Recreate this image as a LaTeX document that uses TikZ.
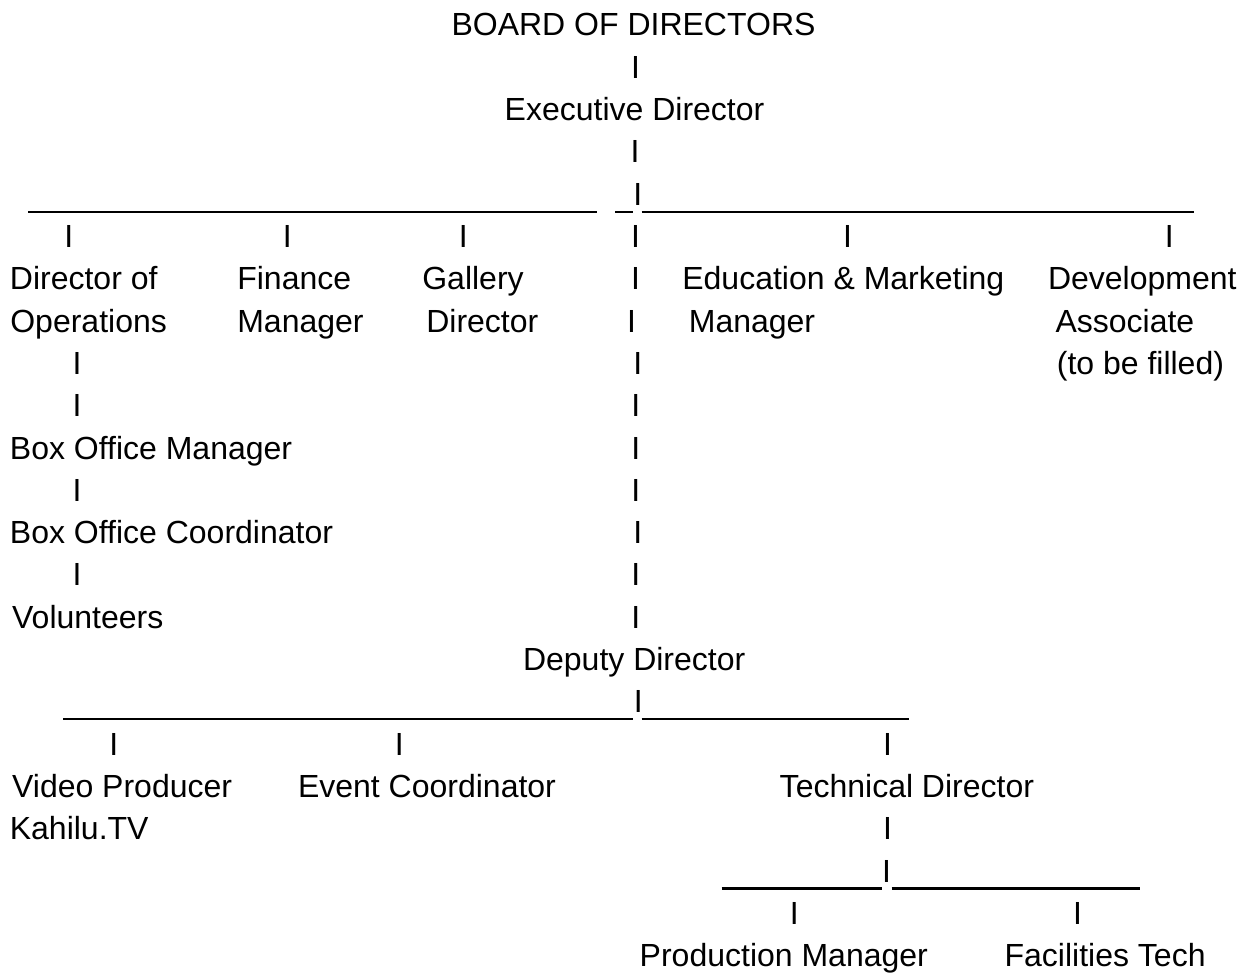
\documentclass[tikz,border=0pt]{standalone}
\usepackage{fontspec}
\setmainfont{Liberation Sans}
\begin{document}
\begin{tikzpicture}[x=0.375pt, y=-0.375pt,
  lbl/.style={anchor=base west, inner sep=0pt, font=\fontsize{12pt}{14pt}\selectfont},
  bar/.style={anchor=base, inner sep=0pt, font=\fontsize{12pt}{14pt}\selectfont},
  rule/.style={line width=0.85pt, black}]
\useasboundingbox (0,0) rectangle (1251,973);
% row baselines: 36 + 42.3 n
% row 0-3
\node[lbl] (board) at (451,36) {BOARD OF DIRECTORS};
\node[bar] (b1) at (635.5,78.3) {I};
\node[lbl] (exec) at (504.2,120.6) {Executive Director};
\node[bar] (b3) at (635,162.9) {I};
% row 4
\node[bar] (b4) at (637.7,205.2) {I};
\coordinate (l4a) at (28,211.7);
\coordinate (l4b) at (597,211.7);
\coordinate (l4c) at (615,211.7);
\coordinate (l4d) at (633,211.7);
\coordinate (l4e) at (641.7,211.7);
\coordinate (l4f) at (1194,211.7);
\draw[rule] (l4a) -- (l4b);
\draw[rule] (l4c) -- (l4d);
\draw[rule] (l4e) -- (l4f);
% row 5
\node[bar] (b5a) at (68.8,247.5) {I};
\node[bar] (b5b) at (287.2,247.5) {I};
\node[bar] (b5c) at (463.3,247.5) {I};
\node[bar] (b5d) at (635.5,247.5) {I};
\node[bar] (b5e) at (847.5,247.5) {I};
\node[bar] (b5f) at (1169.2,247.5) {I};
% row 6
\node[lbl] (dir1) at (9.4,289.8) {Director of};
\node[lbl] (fin1) at (236.8,289.8) {Finance};
\node[lbl] (gal1) at (421.8,289.8) {Gallery};
\node[bar] (b6) at (635.5,289.8) {I};
\node[lbl] (edu1) at (681.8,289.8) {Education \& Marketing};
\node[lbl] (dev1) at (1047.5,289.8) {Development};
% row 7
\node[lbl] (dir2) at (9.8,332.1) {Operations};
\node[lbl] (fin2) at (236.8,332.1) {Manager};
\node[lbl] (gal2) at (425.8,332.1) {Director};
\node[bar] (b7) at (631.5,332.1) {I};
\node[lbl] (edu2) at (688.3,332.1) {Manager};
\node[lbl] (dev2) at (1055,332.1) {Associate};
% row 8
\node[bar] (b8a) at (77,374.4) {I};
\node[bar] (b8b) at (637.7,374.4) {I};
\node[lbl] (dev3) at (1056.3,374.4) {(to be filled)};
% row 9
\node[bar] (b9a) at (77,416.7) {I};
\node[bar] (b9b) at (635.7,416.7) {I};
% row 10
\node[lbl] (bom) at (9.4,459) {Box Office Manager};
\node[bar] (b10) at (635.7,459) {I};
% row 11
\node[bar] (b11a) at (77,501.3) {I};
\node[bar] (b11b) at (635.7,501.3) {I};
% row 12
\node[lbl] (boc) at (9.4,543.6) {Box Office Coordinator};
\node[bar] (b12) at (637.7,543.6) {I};
% row 13
\node[bar] (b13a) at (77,585.9) {I};
\node[bar] (b13b) at (635.7,585.9) {I};
% row 14
\node[lbl] (vol) at (11.6,628.2) {Volunteers};
\node[bar] (b14) at (635.7,628.2) {I};
% row 15
\node[lbl] (dep) at (522.5,670.5) {Deputy Director};
% row 16
\node[bar] (b16) at (638.3,712.8) {I};
\coordinate (l16a) at (63.3,719.3);
\coordinate (l16b) at (633.3,719.3);
\coordinate (l16c) at (641.7,719.3);
\coordinate (l16d) at (909.3,719.3);
\draw[rule] (l16a) -- (l16b);
\draw[rule] (l16c) -- (l16d);
% row 17
\node[bar] (b17a) at (113.8,755.1) {I};
\node[bar] (b17b) at (399.2,755.1) {I};
\node[bar] (b17c) at (887.5,755.1) {I};
% row 18
\node[lbl] (vid1) at (11.6,797.4) {Video Producer};
\node[lbl] (evt) at (297.5,797.4) {Event Coordinator};
\node[lbl] (tech) at (779.2,797.4) {Technical Director};
% row 19
\node[lbl] (vid2) at (9.3,839.7) {Kahilu.TV};
\node[bar] (b19) at (887.5,839.7) {I};
% row 20
\node[bar] (b20) at (886.5,882) {I};
\coordinate (l20a) at (721.7,888.5);
\coordinate (l20b) at (881.7,888.5);
\coordinate (l20c) at (891.7,888.5);
\coordinate (l20d) at (1140,888.5);
\draw[rule] (l20a) -- (l20b);
\draw[rule] (l20c) -- (l20d);
% row 21
\node[bar] (b21a) at (794.2,924.3) {I};
\node[bar] (b21b) at (1077.5,924.3) {I};
% row 22
\node[lbl] (prod) at (639.2,966.6) {Production Manager};
\node[lbl] (fac) at (1004.1,966.6) {Facilities Tech};
\end{tikzpicture}
\end{document}
